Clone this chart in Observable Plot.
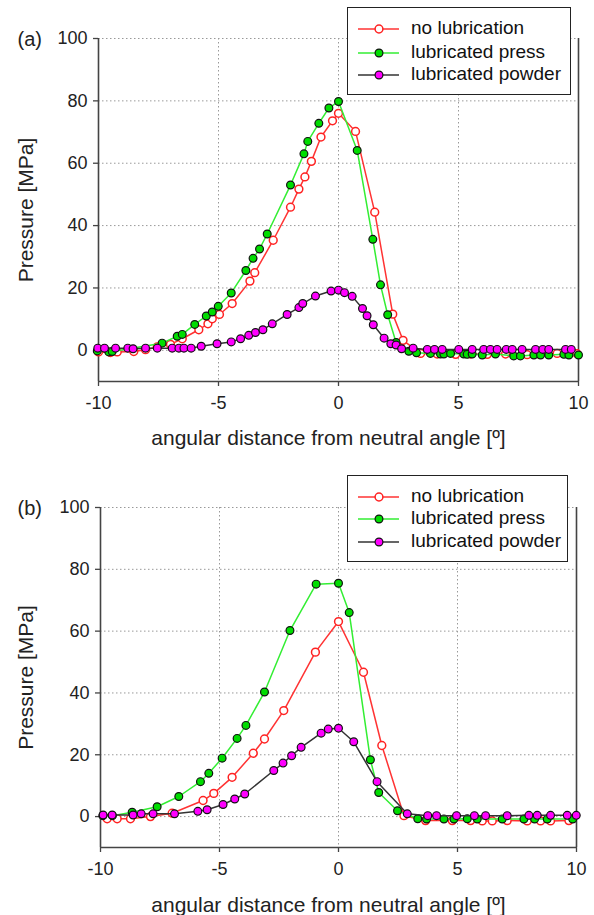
<!DOCTYPE html>
<html>
<head>
<meta charset="utf-8">
<script src="https://cdn.jsdelivr.net/npm/d3@7"></script>
<script src="https://cdn.jsdelivr.net/npm/@observablehq/plot@0.6"></script>
<style>
  html, body { margin: 0; padding: 0; background: white; }
  #wrap { position: relative; width: 594px; height: 915px; font-family: "Liberation Sans", Arial, sans-serif; }
  .panel { position: absolute; left: 0; }
  .legend { position: absolute; background: white; border: 1.3px solid #222; box-sizing: border-box; }
  .legend .row { position: absolute; left: 0; height: 20px; }
  .legend svg { position: absolute; left: 8px; top: 0; }
  .legend span { position: absolute; left: 63px; top: -1px; font-size: 19px; line-height: 20px; color: #111; white-space: nowrap; }
</style>
</head>
<body>
<div id="wrap"></div>
<script>
// ---- data ----
const seriesNames = ["no lubrication", "lubricated press", "lubricated powder"];
const xTicks = [-10, -5, 0, 5, 10];
const yTicks = [0, 20, 40, 60, 80, 100];
const xLabel = "angular distance from neutral angle [º]";
const yLabel = "Pressure [MPa]";

// Panel (a)
const aNoLub = [[-10,-0.5],[-9.5,-0.7],[-9.22,-0.5],[-8.53,-0.4],[-8.04,0.2],[-7.55,1.1],[-7.0,1.9],[-6.51,3.7],[-5.82,6.6],[-5.44,8.5],[-5.26,10.1],[-4.96,11.5],[-4.43,15.0],[-3.69,22.2],[-3.49,24.9],[-2.72,35.3],[-2.0,45.9],[-1.65,51.7],[-1.40,55.6],[-1.13,60.6],[-0.73,68.4],[-0.25,73.6],[0.0,76.0],[0.71,70.2],[1.51,44.3],[2.26,11.6],[2.69,3.2],[3.42,-1.0],[4.11,-1.2],[4.88,-1.3],[5.5,-1.2],[6.2,-1.3],[6.96,-1.2],[7.86,-1.4],[8.35,-1.2],[9.11,-1.0],[9.94,-1.1]];
const aPress = [[-10.05,-0.2],[-9.57,-0.5],[-9.43,-0.4],[-7.35,2.3],[-6.72,4.5],[-6.51,5.1],[-5.99,8.3],[-5.51,11.0],[-5.26,12.3],[-5.01,14.1],[-4.47,18.4],[-3.86,25.6],[-3.56,29.5],[-3.29,32.5],[-2.97,37.3],[-2.0,53.0],[-1.44,63.0],[-1.28,67.0],[-0.82,72.8],[-0.40,77.7],[0.0,79.8],[0.78,64.1],[1.43,35.6],[1.75,21.0],[2.05,11.4],[2.4,2.5],[2.93,-0.3],[3.25,-0.8],[3.83,-1.0],[4.25,-1.2],[4.39,-1.2],[4.67,-1.0],[5.22,-1.2],[5.36,-1.3],[5.57,-1.2],[5.99,-1.5],[6.54,-1.2],[7.3,-1.8],[7.58,-1.8],[8.14,-1.5],[8.42,-1.5],[8.76,-1.5],[9.39,-1.3],[9.6,-1.5],[10.0,-1.5]];
const aPowder = [[-10.03,0.7],[-9.75,0.7],[-9.29,0.7],[-8.78,0.7],[-8.56,0.5],[-8.04,0.7],[-7.55,0.7],[-6.93,0.7],[-6.65,0.7],[-6.44,0.7],[-6.14,0.7],[-5.72,1.3],[-5.06,2.1],[-4.47,2.7],[-4.08,3.7],[-3.74,4.8],[-3.46,5.7],[-3.15,6.6],[-2.76,8.5],[-2.14,11.5],[-1.65,13.7],[-1.49,15.0],[-0.96,17.4],[-0.31,19.0],[0.0,19.3],[0.25,18.5],[0.57,17.3],[1.0,13.4],[1.19,11.1],[1.45,8.2],[1.9,3.9],[2.18,2.1],[2.4,1.7],[2.63,0.5],[3.11,0.7],[3.7,0.3],[4.0,0.3],[4.32,0.3],[5.01,0.3],[5.57,0.3],[6.05,0.3],[6.33,0.3],[6.61,0.3],[6.99,0.3],[7.24,0.3],[7.65,0.3],[8.21,0.3],[8.51,0.3],[8.76,0.3],[9.46,0.3],[9.7,0.3]];

// Panel (b)
const bNoLub = [[-9.72,-0.7],[-9.30,-0.7],[-8.74,-0.7],[-7.90,0.0],[-6.99,1.1],[-5.69,5.2],[-5.24,7.5],[-4.47,12.7],[-3.58,20.5],[-3.11,25.1],[-2.30,34.3],[-0.97,53.2],[0.0,63.1],[1.05,46.7],[1.82,23.0],[2.75,0.3],[3.66,-1.3],[4.78,-1.3],[5.55,-1.3],[6.04,-1.4],[6.46,-1.4],[7.09,-1.3],[7.93,-1.4],[8.49,-1.4],[8.91,-1.4],[9.68,-1.3]];
const bPress = [[-9.9,0.3],[-9.5,0.3],[-8.67,1.4],[-7.62,3.2],[-6.71,6.5],[-5.80,11.3],[-5.45,14.0],[-4.89,18.9],[-4.26,25.3],[-3.89,29.5],[-3.11,40.3],[-2.04,60.2],[-0.94,75.2],[0.0,75.5],[0.45,66.0],[1.34,18.4],[1.69,7.8],[2.48,1.9],[3.33,-0.7],[3.70,-0.8],[4.43,-0.8],[4.85,-0.8],[5.41,-0.7],[5.83,-0.8],[6.88,-0.8],[7.79,-0.8],[8.24,-0.8],[8.77,-0.8],[9.84,-0.8]];
const bPowder = [[-9.89,0.5],[-9.51,0.5],[-8.63,0.5],[-8.29,0.9],[-7.79,0.9],[-6.89,0.9],[-5.91,1.7],[-5.52,2.2],[-4.85,3.9],[-4.36,5.7],[-3.94,7.3],[-2.72,14.9],[-2.33,17.3],[-1.97,19.7],[-1.57,22.4],[-0.73,27.0],[-0.43,28.3],[0.0,28.6],[0.64,24.2],[1.62,11.3],[2.89,0.9],[3.75,0.3],[4.12,0.3],[4.96,0.3],[5.71,0.3],[6.18,0.3],[7.09,0.3],[8.0,0.4],[8.35,0.4],[8.91,0.4],[9.61,0.4],[9.99,0.4]];

// ---- styles ----
const styles = [
  {line: "#ff3333", fill: "white",   stroke: "#ff2222", sw: 1.5},
  {line: "#33ee33", fill: "#00dd00", stroke: "#111",    sw: 1.2},
  {line: "#333333", fill: "#ff00ff", stroke: "#111",    sw: 1.2}
];

function panel(cfg) {
  const seriesMarks = cfg.series.flatMap((data, i) => [
    Plot.line(data, {x: d => d[0], y: d => d[1], stroke: styles[i].line, strokeWidth: 1.5}),
    Plot.dot(data, {x: d => d[0], y: d => d[1], r: 3.9, fill: styles[i].fill, stroke: styles[i].stroke, strokeWidth: styles[i].sw})
  ]);
  return Plot.plot({
    width: 594, height: cfg.height,
    marginLeft: cfg.ml, marginRight: cfg.mr, marginTop: cfg.mt, marginBottom: cfg.mb,
    style: {fontFamily: "'Liberation Sans', Arial, sans-serif", fontSize: "18px", color: "#222", background: "white", overflow: "visible"},
    x: {domain: [-10, 10]},
    y: {domain: [-10, 100]},
    marks: [
      Plot.gridY(yTicks, {stroke: "#999", strokeOpacity: 1, strokeWidth: 1, strokeDasharray: "1.5,2.5"}),
      Plot.gridX(xTicks.filter(t => t > -10 && t < 10), {stroke: "#999", strokeOpacity: 1, strokeWidth: 1, strokeDasharray: "1.5,2.5"}),
      Plot.axisY(yTicks, {tickSize: 5, tickPadding: 6, label: null, tickFormat: d => String(d), stroke: "#444", strokeWidth: 1.3, fontSize: 18, fill: "#222"}),
      Plot.axisX(xTicks, {tickSize: 5, tickPadding: 10, label: null, tickFormat: d => String(d), stroke: "#444", strokeWidth: 1.3, fontSize: 18, fill: "#222"}),
      Plot.ruleX([-10, 10], {stroke: "#444", strokeWidth: 1.6}),
      Plot.ruleY([-10], {stroke: "#444", strokeWidth: 1.6}),
      ...seriesMarks,
      Plot.text([yLabel], {frameAnchor: "left", textAnchor: "middle", lineAnchor: "middle", rotate: -90, dx: -cfg.ylx, fontSize: 21, fill: "#222"}),
      Plot.text([xLabel], {frameAnchor: "bottom", textAnchor: "middle", lineAnchor: "middle", dy: cfg.xly, dx: -10, fontSize: 21, fill: "#222"}),
      Plot.text([cfg.tag], {frameAnchor: "top-left", textAnchor: "start", lineAnchor: "middle", dx: cfg.tagdx, dy: 1, fontSize: 20, fill: "#222"})
    ]
  });
}

function legend(box) {
  const div = document.createElement("div");
  div.className = "legend";
  div.style.left = box.left + "px";
  div.style.top = box.top + "px";
  div.style.width = box.width + "px";
  div.style.height = box.height + "px";
  seriesNames.forEach((name, i) => {
    const row = document.createElement("div");
    row.className = "row";
    row.style.top = (box.rows[i] - 10) + "px";
    row.style.width = "100%";
    const s = styles[i];
    row.innerHTML = `<svg width="46" height="20"><line x1="2" y1="10" x2="43" y2="10" stroke="${s.line}" stroke-width="1.5"/><circle cx="23" cy="10" r="3.9" fill="${s.fill}" stroke="${s.stroke}" stroke-width="${s.sw}"/></svg><span>${name}</span>`;
    div.appendChild(row);
  });
  return div;
}

const wrap = document.getElementById("wrap");

const pa = document.createElement("div");
pa.className = "panel"; pa.style.top = "0px";
pa.appendChild(panel({height: 460, ml: 98, mr: 16, mt: 38, mb: 79, series: [aNoLub, aPress, aPowder], ylx: 72, xly: 57, tag: "(a)", tagdx: -81}));
wrap.appendChild(pa);
wrap.appendChild(legend({left: 347, top: 7, width: 224, height: 88, rows: [21, 45, 67]}));

const pb = document.createElement("div");
pb.className = "panel"; pb.style.top = "460px";
pb.appendChild(panel({height: 455, ml: 100, mr: 18, mt: 47, mb: 68, series: [bNoLub, bPress, bPowder], ylx: 74, xly: 58, tag: "(b)", tagdx: -83}));
wrap.appendChild(pb);
wrap.appendChild(legend({left: 347, top: 475, width: 221, height: 87, rows: [21, 43, 66]}));
</script>
</body>
</html>
